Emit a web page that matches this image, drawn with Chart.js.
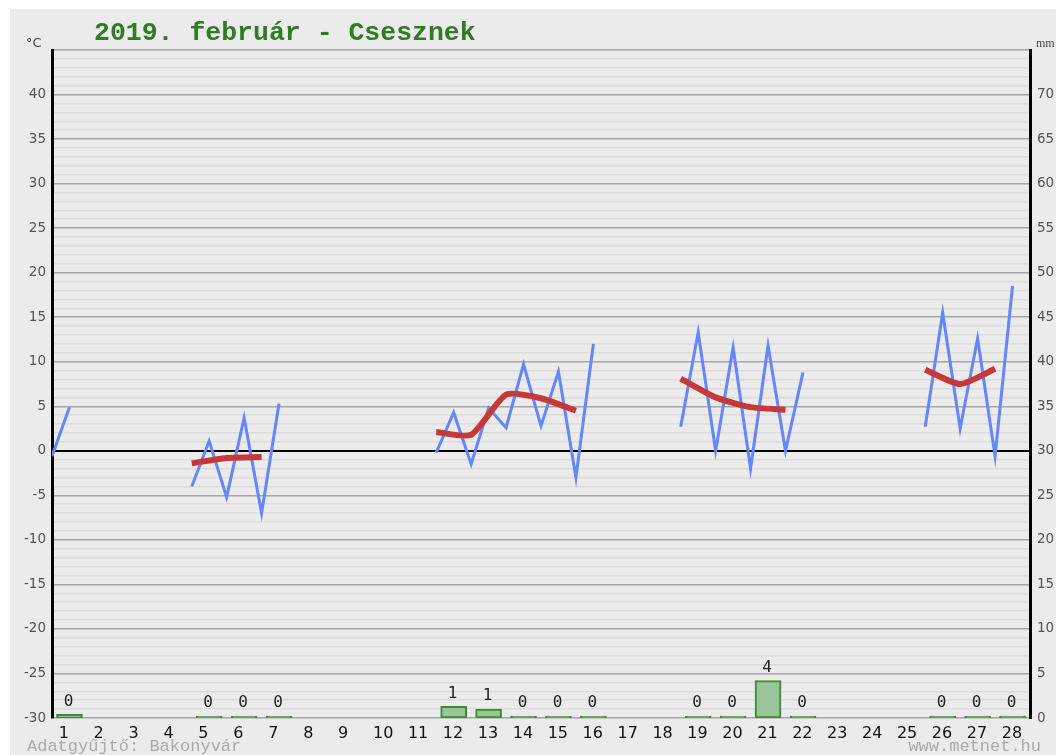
<!DOCTYPE html>
<html>
<head>
<meta charset="utf-8">
<script src="https://cdn.jsdelivr.net/npm/chart.js@4.4.1/dist/chart.umd.min.js"></script>
<style>
    body { margin: 0; background: #ffffff; }
    #wrap { position: absolute; left: 10px; top: 9px; width: 1046px; height: 746px; }
    #chart { background: #ebebeb; }
</style>
</head>
<body>
<div id="wrap"><canvas id="chart" width="1046" height="746"></canvas></div>
<script>
// ===================================
// Monthly weather chart - Csesznek, 2019 February
// ===================================

const days = [1, 2, 3, 4, 5, 6, 7, 8, 9, 10, 11, 12, 13, 14, 15, 16, 17, 18, 19, 20, 21, 22, 23, 24, 25, 26, 27, 28];

// daily minimum (start of day) and maximum (mid-day), °C
const tempMin = [-0.6, null, null, null, -4.0, -5.2, -7.0, null, null, null, null, -0.2, -1.5, 2.6, 2.8, -3.0, null, null, 2.7, 0.0, -2.0, 0.0, null, null, null, 2.7, 2.5, -0.6];
const tempMax = [4.9, null, null, null, 1.1, 3.7, 5.3, null, null, null, null, 4.3, 4.8, 9.7, 8.9, 12.0, null, null, 13.3, 11.6, 11.8, 8.8, null, null, null, 15.5, 12.6, 18.5];
// daily mean, °C
const tempAvg = [2.1, null, null, null, -1.4, -0.8, -0.7, null, null, null, null, 2.1, 1.8, 6.3, 5.9, 4.5, null, null, 8.1, 6.0, 4.9, 4.6, null, null, null, 9.1, 7.5, 9.2];
// precipitation, mm
const precip = [0.4, null, null, null, 0, 0, 0, null, null, null, null, 1.3, 1.0, 0, 0, 0, null, null, 0, 0, 4.2, 0, null, null, null, 0, 0, 0];

const tempTicks = [-30, -25, -20, -15, -10, -5, 0, 5, 10, 15, 20, 25, 30, 35, 40];
const mmTicks = [0, 5, 10, 15, 20, 25, 30, 35, 40, 45, 50, 55, 60, 65, 70];

// Build line points: min at day start, max at mid-day
const tempPoints = [];
days.forEach((d, i) => {
    if (tempMin[i] === null) {
        tempPoints.push({ x: d - 0.5, y: null });
        return;
    }
    tempPoints.push({ x: d - 0.5, y: tempMin[i] });
    tempPoints.push({ x: d, y: tempMax[i] });
});
const avgPoints = days.map((d, i) => ({ x: d - 0.5, y: tempAvg[i] }));
const precipPoints = days.map((d, i) => ({ x: d, y: precip[i] })).filter(p => p.y !== null);

// Texts drawn on the canvas (title, unit labels, footers, bar values)
const textPlugin = {
    id: 'texts',
    afterDatasetsDraw(chart) {
        const ctx = chart.ctx;
        ctx.save();
        // bar value labels
        const meta = chart.getDatasetMeta(0);
        ctx.font = '16px "DejaVu Sans Mono"';
        ctx.fillStyle = '#222';
        ctx.textAlign = 'center';
        ctx.textBaseline = 'bottom';
        meta.data.forEach((el, i) => {
            const v = precipPoints[i].y;
            ctx.fillText(String(Math.round(v)), el.x - 1, Math.min(el.y, el.base) - 5);
        });
        ctx.restore();
    },
    afterDraw(chart) {
        const ctx = chart.ctx;
        ctx.save();
        ctx.textBaseline = 'alphabetic';
        ctx.textAlign = 'left';
        ctx.fillStyle = '#2e7d22';
        ctx.font = 'bold 26.5px "Liberation Mono"';
        ctx.fillText('2019. február - Csesznek', 84, 31);

        ctx.fillStyle = '#444';
        ctx.font = '13px "DejaVu Sans"';
        ctx.fillText('°C', 16, 38);
        ctx.font = '12px "Liberation Serif"';
        ctx.fillText('mm', 1026, 38);

        ctx.fillStyle = '#aaaaaa';
        ctx.font = '17px "Liberation Mono"';
        ctx.fillText('Adatgyűjtő: Bakonyvár', 17, 742);
        ctx.textAlign = 'right';
        ctx.fillText('www.metnet.hu', 1031, 742);
        ctx.restore();
    }
};

new Chart(document.getElementById('chart'), {
    data: {
        datasets: [{
            type: 'bar',
            label: 'Csapadék',
            data: precipPoints,
            yAxisID: 'y2',
            backgroundColor: '#9cc49a',
            borderColor: '#3f8a2e',
            borderWidth: 2,
            borderSkipped: false,
            barThickness: 26,
            minBarLength: 2,
            order: 3
        }, {
            type: 'line',
            label: 'Hőmérséklet',
            data: tempPoints,
            yAxisID: 'y',
            borderColor: '#6486ff',
            borderWidth: 3,
            pointRadius: 0,
            spanGaps: false,
            tension: 0,
            order: 2
        }, {
            type: 'line',
            label: 'Napi átlag',
            data: avgPoints,
            yAxisID: 'y',
            borderColor: '#c93838',
            borderWidth: 6,
            pointRadius: 0,
            spanGaps: false,
            tension: 0.2,
            order: 1
        }]
    },
    options: {
        responsive: false,
        animation: false,
        layout: { padding: { top: 41, left: 0, right: 0, bottom: 0 } },
        plugins: {
            legend: { display: false },
            title: { display: false },
            tooltip: { enabled: false }
        },
        scales: {
            x: {
                type: 'linear',
                offset: false,
                min: 0.5,
                max: 28.5,
                grid: { display: false, offset: false },
                border: { display: false },
                afterBuildTicks: axis => {
                    axis.ticks = days.map(d => ({ value: d - 0.31 }));
                },
                afterFit: axis => { axis.height = 37; },
                ticks: {
                    align: 'start',
                    autoSkip: false,
                    maxRotation: 0,
                    padding: -2,
                    color: '#111',
                    font: { family: 'DejaVu Sans', size: 16 },
                    callback: v => String(Math.round(v + 0.31))
                }
            },
            y: {
                position: 'left',
                min: -30,
                max: 45,
                afterBuildTicks: axis => {
                    const t = [];
                    for (let v = -30; v <= 45; v++) t.push({ value: v });
                    axis.ticks = t;
                },
                afterFit: axis => { axis.width = 42; },
                border: { display: true, color: '#000', width: 3 },
                grid: {
                    drawTicks: false,
                    color: c => c.tick.value === 0 ? '#000000' : (c.tick.value % 5 === 0 ? '#a6a6a6' : '#dcdcdc'),
                    lineWidth: c => c.tick.value === 0 ? 2 : 1.5
                },
                ticks: {
                    autoSkip: false,
                    padding: 6,
                    color: '#555',
                    font: { family: 'DejaVu Sans', size: 13.5 },
                    callback: v => tempTicks.includes(v) ? String(v) : ''
                }
            },
            y2: {
                position: 'right',
                min: 0,
                max: 75,
                afterBuildTicks: axis => {
                    axis.ticks = mmTicks.map(v => ({ value: v }));
                },
                afterFit: axis => { axis.width = 26; },
                border: { display: true, color: '#000', width: 3 },
                grid: { display: false, drawTicks: false },
                ticks: {
                    autoSkip: false,
                    padding: 7,
                    color: '#555',
                    font: { family: 'DejaVu Sans', size: 13.5 }
                }
            }
        }
    },
    plugins: [textPlugin]
});
</script>
</body>
</html>
